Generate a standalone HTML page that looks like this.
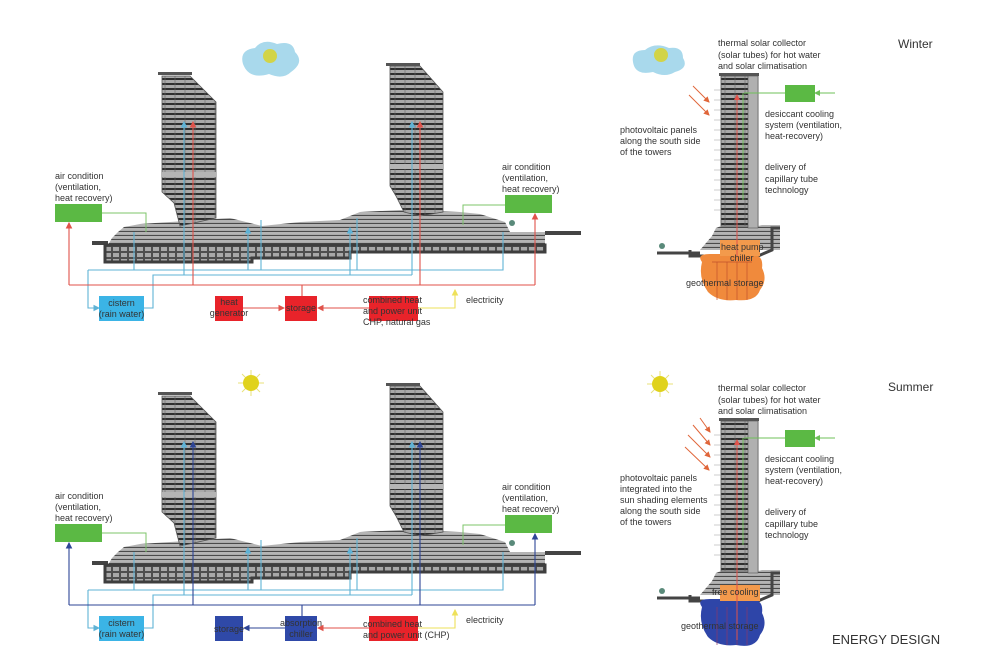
<!DOCTYPE html>
<html><head><meta charset="utf-8"><style>
html,body{margin:0;padding:0;background:#fff;}
svg{display:block;}
text{font-family:"Liberation Sans",Arial,sans-serif;fill:#333;}
</style></head><body>
<svg width="1000" height="667" viewBox="0 0 1000 667" xmlns="http://www.w3.org/2000/svg">
<defs>
<pattern id="fl" width="10" height="5" patternUnits="userSpaceOnUse">
<rect width="10" height="5" fill="#a9a9a9"/>
<line x1="0" y1="4" x2="10" y2="4" stroke="#2e2e2e" stroke-width="2"/>
<line x1="5" y1="0" x2="5" y2="5" stroke="#666" stroke-width="0.6"/>
</pattern>
<pattern id="pd" width="8" height="4" patternUnits="userSpaceOnUse">
<rect width="8" height="4" fill="#b4b4b4"/>
<line x1="0" y1="3.5" x2="8" y2="3.5" stroke="#4a4a4a" stroke-width="1.2"/>
</pattern>
<pattern id="bs" width="8" height="6" patternUnits="userSpaceOnUse">
<rect width="8" height="6" fill="#a8a8a8"/>
<rect x="0.5" y="0.5" width="7" height="5" fill="none" stroke="#444" stroke-width="0.9"/>
</pattern>
<marker id="ar" markerWidth="6" markerHeight="6" refX="5" refY="3" orient="auto"><path d="M0,0 L6,3 L0,6 Z" fill="context-stroke"/></marker>

<g id="bld">
 <rect x="92" y="241" width="16" height="4" fill="#444"/>
 <rect x="545" y="231" width="36" height="4" fill="#444"/>
 <polygon points="108,245 112,238 118,232 124,227 140,224 170,222 230,218 262,226 300,222 340,220 360,212 400,210 460,212 480,214 505,222 510,232 545,232 545,245" fill="url(#pd)"/>
 <polygon points="105,245 545,245 545,252 350,252 350,258 252,258 252,262 105,262" fill="url(#bs)" stroke="#3e3e3e" stroke-width="3"/>
 <rect x="158" y="72" width="34" height="3" fill="#555"/>
 <polygon points="162,76 190,76 216,102 216,218 180,226 174,203 162,192" fill="url(#fl)" stroke="#555" stroke-width="0.8"/>
 <rect x="386" y="63" width="34" height="3" fill="#555"/>
 <polygon points="390,66 420,66 443,92 443,212 420,216 404,212 396,196 390,186" fill="url(#fl)" stroke="#555" stroke-width="0.8"/>
 <rect x="162" y="172" width="54" height="5" fill="#b5b5b5"/>
 <rect x="390" y="164" width="53" height="5" fill="#b5b5b5"/>
 <circle cx="512" cy="223" r="3" fill="#5a8a7a"/>
 <polyline points="102,213 146,213 146,232" fill="none" stroke="#7cc46a" stroke-width="1"/>
 <polyline points="505,205 463,205 463,225" fill="none" stroke="#7cc46a" stroke-width="1"/>
 <rect x="55" y="204" width="47" height="18" fill="#5bb944"/>
 <rect x="505" y="195" width="47" height="18" fill="#5bb944"/>
 <g fill="none" stroke="#5fb3d6" stroke-width="1.1">
  <polyline points="134,232 134,270 503,270 503,232"/>
  <polyline points="88,270 88,308 99,308" marker-end="url(#ar)"/>
  <line x1="88" y1="270" x2="134" y2="270"/>
  <polyline points="144,308 153,308 153,275 360,275"/>
  <line x1="184" y1="275" x2="184" y2="122" marker-end="url(#ar)"/>
  <line x1="248" y1="270" x2="248" y2="228" marker-end="url(#ar)"/>
  <line x1="261" y1="270" x2="261" y2="220"/>
  <line x1="350" y1="275" x2="350" y2="228" marker-end="url(#ar)"/>
  <line x1="357" y1="270" x2="357" y2="218"/>
  <line x1="412" y1="275" x2="412" y2="122" marker-end="url(#ar)"/>
  <line x1="360" y1="275" x2="412" y2="275"/>
 </g>
 <text x="55" y="179" font-size="9">air condition</text>
 <text x="55" y="190" font-size="9">(ventilation,</text>
 <text x="55" y="201" font-size="9">heat recovery)</text>
 <text x="502" y="170" font-size="9">air condition</text>
 <text x="502" y="181" font-size="9">(ventilation,</text>
 <text x="502" y="192" font-size="9">heat recovery)</text>
 <rect x="99" y="296" width="45" height="25" fill="#3bb4e6"/>
 <text x="121.5" y="306" font-size="9" text-anchor="middle">cistern</text>
 <text x="121.5" y="317" font-size="9" text-anchor="middle">(rain water)</text>
 <polyline points="418,308 455,308 455,290" fill="none" stroke="#eee15a" stroke-width="1.1" marker-end="url(#ar)"/>
 <text x="466" y="303" font-size="9">electricity</text>
</g>

<g id="twr">
 <line x1="657" y1="253" x2="700" y2="253" stroke="#444" stroke-width="3"/>
 <circle cx="662" cy="246" r="3" fill="#5a8a7a"/>
 <polygon points="700,250 712,236 716,228 721,226 758,226 762,225 780,225 780,250" fill="url(#pd)"/>
 <polyline points="690,250 690,256 758,256 772,250 772,228 780,228" fill="none" stroke="#444" stroke-width="3"/>
 <rect x="719" y="73" width="40" height="3" fill="#555"/>
 <rect x="721" y="76" width="37" height="150" fill="url(#fl)" stroke="#555" stroke-width="0.8"/>
 <rect x="748" y="76" width="10" height="152" fill="#b0b0b0" stroke="#555" stroke-width="0.6"/>
 <g stroke="#999" stroke-width="0.5">
  <line x1="714" y1="90" x2="721" y2="90"/><line x1="714" y1="100" x2="721" y2="100"/><line x1="714" y1="110" x2="721" y2="110"/><line x1="714" y1="120" x2="721" y2="120"/><line x1="714" y1="130" x2="721" y2="130"/><line x1="714" y1="140" x2="721" y2="140"/><line x1="714" y1="150" x2="721" y2="150"/><line x1="714" y1="160" x2="721" y2="160"/><line x1="714" y1="170" x2="721" y2="170"/><line x1="714" y1="180" x2="721" y2="180"/><line x1="714" y1="190" x2="721" y2="190"/><line x1="714" y1="200" x2="721" y2="200"/><line x1="714" y1="210" x2="721" y2="210"/>
 </g>
 <line x1="744" y1="93" x2="785" y2="93" stroke="#6fc05a" stroke-width="1"/>
 <line x1="743" y1="93" x2="743" y2="200" stroke="#6fc05a" stroke-width="1"/>
 <line x1="835" y1="93" x2="815" y2="93" stroke="#6fc05a" stroke-width="1" marker-end="url(#ar)"/>
 <rect x="785" y="85" width="30" height="17" fill="#5bb944"/>
 <text x="718" y="46" font-size="9">thermal solar collector</text>
 <text x="718" y="58" font-size="9">(solar tubes) for hot water</text>
 <text x="718" y="69" font-size="9">and solar climatisation</text>
 <text x="765" y="117" font-size="9">desiccant cooling</text>
 <text x="765" y="128" font-size="9">system (ventilation,</text>
 <text x="765" y="139" font-size="9">heat-recovery)</text>
 <text x="765" y="170" font-size="9">delivery of</text>
 <text x="765" y="182" font-size="9">capillary tube</text>
 <text x="765" y="193" font-size="9">technology</text>
</g>
</defs>

<use href="#bld"/>
<g fill="none" stroke="#e0524a" stroke-width="1.1">
 <polyline points="69,285 535,285"/>
 <line x1="69" y1="285" x2="69" y2="223" marker-end="url(#ar)"/>
 <line x1="535" y1="285" x2="535" y2="214" marker-end="url(#ar)"/>
 <line x1="193" y1="285" x2="193" y2="122" marker-end="url(#ar)"/>
 <line x1="420" y1="285" x2="420" y2="122" marker-end="url(#ar)"/>
 <line x1="302" y1="285" x2="302" y2="296"/>
 <line x1="243" y1="308" x2="284" y2="308" marker-end="url(#ar)"/>
 <line x1="369" y1="308" x2="318" y2="308" marker-end="url(#ar)"/>
</g>
<rect x="215" y="296" width="28" height="25" fill="#e8232a"/>
<text x="229" y="305" font-size="9" text-anchor="middle">heat</text>
<text x="229" y="316" font-size="9" text-anchor="middle">generator</text>
<rect x="285" y="296" width="32" height="25" fill="#e8232a"/>
<text x="301" y="311" font-size="9" text-anchor="middle">storage</text>
<rect x="369" y="296" width="49" height="25" fill="#e8232a"/>
<text x="363" y="303" font-size="9">combined heat</text>
<text x="363" y="314" font-size="9">and power unit</text>
<text x="363" y="325" font-size="9">CHP, natural gas</text>
<path d="M243,64 q-4,-14 12,-16 q8,-10 22,-4 q16,-4 18,8 q10,10 -4,20 q-8,8 -22,2 q-20,6 -26,-10z" fill="#a9d9ec"/>
<circle cx="270" cy="56" r="7" fill="#d9d22a" opacity="0.85"/>

<use href="#bld" y="320"/>
<g fill="none" stroke="#2e4596" stroke-width="1.1">
 <polyline points="69,605 535,605"/>
 <line x1="69" y1="605" x2="69" y2="543" marker-end="url(#ar)"/>
 <line x1="535" y1="605" x2="535" y2="534" marker-end="url(#ar)"/>
 <line x1="193" y1="605" x2="193" y2="442" marker-end="url(#ar)"/>
 <line x1="420" y1="605" x2="420" y2="442" marker-end="url(#ar)"/>
 <line x1="302" y1="605" x2="302" y2="616"/>
 <line x1="285" y1="628" x2="244" y2="628" marker-end="url(#ar)"/>
</g>
<line x1="369" y1="628" x2="318" y2="628" stroke="#e0524a" stroke-width="1.1" marker-end="url(#ar)"/>
<rect x="215" y="616" width="28" height="25" fill="#2f49a8"/>
<text x="229" y="632" font-size="9" text-anchor="middle">storage</text>
<rect x="285" y="616" width="32" height="25" fill="#2f49a8"/>
<text x="301" y="626" font-size="9" text-anchor="middle">absorption</text>
<text x="301" y="637" font-size="9" text-anchor="middle">chiller</text>
<rect x="369" y="616" width="49" height="25" fill="#e8232a"/>
<text x="363" y="627" font-size="9">combined heat</text>
<text x="363" y="638" font-size="9">and power unit (CHP)</text>
<g stroke="#e9e27a" stroke-width="1"><line x1="251" y1="370" x2="251" y2="396"/><line x1="238" y1="383" x2="264" y2="383"/><line x1="242" y1="374" x2="260" y2="392"/><line x1="260" y1="374" x2="242" y2="392"/></g>
<circle cx="251" cy="383" r="8" fill="#e0d21c"/>

<use href="#twr"/>
<path d="M702,262 q-6,-8 8,-8 l40,0 q14,0 12,14 q6,12 -2,22 q-4,12 -24,10 q-18,2 -28,-8 q-10,-14 -6,-30z" fill="#f08a3c"/>
<rect x="720" y="240" width="40" height="16" fill="#f39a4c"/>
<g stroke="#c0502a" stroke-width="0.7" fill="none"><line x1="717" y1="262" x2="717" y2="300"/><line x1="727" y1="262" x2="727" y2="300"/><line x1="737" y1="262" x2="737" y2="300"/><line x1="747" y1="262" x2="747" y2="300"/><line x1="712" y1="262" x2="752" y2="262"/></g>
<line x1="737" y1="256" x2="737" y2="95" stroke="#e0524a" stroke-width="1" marker-end="url(#ar)"/>
<text x="721" y="250" font-size="9">heat pump</text>
<text x="730" y="261" font-size="9">chiller</text>
<text x="686" y="286" font-size="9">geothermal storage</text>
<g stroke="#e0663a" stroke-width="1" fill="none"><line x1="693" y1="86" x2="709" y2="102" marker-end="url(#ar)"/><line x1="689" y1="95" x2="709" y2="115" marker-end="url(#ar)"/></g>
<text x="620" y="133" font-size="9">photovoltaic panels</text>
<text x="620" y="144" font-size="9">along the south side</text>
<text x="620" y="155" font-size="9">of the towers</text>
<text x="898" y="48" font-size="12">Winter</text>
<path d="M633,62 q-2,-12 12,-12 q10,-8 24,-2 q14,-2 14,10 q6,10 -8,14 q-10,6 -22,0 q-18,4 -20,-10z" fill="#a9d9ec"/>
<circle cx="661" cy="55" r="7" fill="#d9d22a" opacity="0.85"/>

<use href="#twr" y="345"/>
<path d="M702,607 q-6,-8 8,-8 l40,0 q14,0 12,14 q6,12 -2,22 q-4,14 -24,10 q-18,2 -28,-8 q-10,-14 -6,-30z" fill="#2e45a8"/>
<g stroke="#8a3a6a" stroke-width="0.7" fill="none"><line x1="717" y1="607" x2="717" y2="645"/><line x1="727" y1="607" x2="727" y2="645"/><line x1="737" y1="607" x2="737" y2="645"/><line x1="747" y1="607" x2="747" y2="645"/></g>
<rect x="720" y="585" width="40" height="16" fill="#f39a4c"/>
<line x1="737" y1="640" x2="737" y2="440" stroke="#e0524a" stroke-width="1" marker-end="url(#ar)"/>
<text x="712" y="595" font-size="9">free cooling</text>
<text x="681" y="629" font-size="9">geothermal storage</text>
<g stroke="#e0663a" stroke-width="1" fill="none"><line x1="700" y1="418" x2="710" y2="432" marker-end="url(#ar)"/><line x1="693" y1="425" x2="710" y2="445" marker-end="url(#ar)"/><line x1="688" y1="435" x2="710" y2="457" marker-end="url(#ar)"/><line x1="685" y1="447" x2="709" y2="470" marker-end="url(#ar)"/></g>
<text x="620" y="481" font-size="9">photovoltaic panels</text>
<text x="620" y="492" font-size="9">integrated into the</text>
<text x="620" y="503" font-size="9">sun shading elements</text>
<text x="620" y="514" font-size="9">along the south side</text>
<text x="620" y="525" font-size="9">of the towers</text>
<text x="888" y="391" font-size="12">Summer</text>
<text x="832" y="644" font-size="13">ENERGY DESIGN</text>
<g stroke="#e9e27a" stroke-width="1"><line x1="660" y1="371" x2="660" y2="397"/><line x1="647" y1="384" x2="673" y2="384"/><line x1="651" y1="375" x2="669" y2="393"/><line x1="669" y1="375" x2="651" y2="393"/></g>
<circle cx="660" cy="384" r="8" fill="#e0d21c"/>
</svg>
</body></html>
